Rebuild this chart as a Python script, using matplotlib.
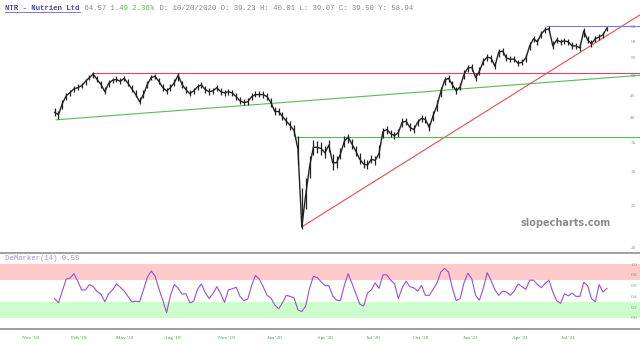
import matplotlib
matplotlib.use('Agg')
import matplotlib.pyplot as plt
import matplotlib.ticker as mticker
import matplotlib.dates as mdates
from matplotlib.lines import Line2D
import pandas as pd

# ---------------- data ----------------
start_date = '2018-12-14'
price_close = [
    41.1, 40.6, 43.1, 44.9, 45.7, 46.6, 46.9, 47.4, 48.5, 49.5,
    50.4, 49.0, 47.7, 45.9, 48.0, 48.8, 49.0, 48.5, 49.3, 48.0,
    46.6, 45.2, 43.5, 45.2, 47.7, 49.5, 49.8, 48.5, 46.9, 46.1,
    46.9, 48.2, 50.1, 47.7, 46.4, 45.4, 46.1, 47.1, 47.6, 46.4,
    45.9, 46.1, 46.9, 45.9, 45.6, 45.9, 45.6, 44.7, 43.7, 43.3,
    43.5, 44.7, 45.2, 45.2, 45.2, 44.7, 43.3, 41.3, 41.3, 40.2,
    39.2, 38.3, 37.3, 33.8, 22.3, 26.4, 30.7, 34.1, 34.1, 33.9,
    33.1, 34.5, 31.4, 31.4, 32.9, 35.2, 36.0, 34.7, 33.4, 32.0,
    31.2, 31.0, 32.0, 31.8, 33.0, 37.1, 37.5, 36.7, 36.3, 36.9,
    39.0, 39.2, 37.9, 37.5, 39.0, 39.8, 39.6, 37.9, 40.4, 42.6,
    45.9, 48.8, 49.3, 47.6, 46.1, 47.1, 50.3, 52.1, 52.3, 49.5,
    51.2, 54.0, 55.2, 54.9, 52.6, 56.7, 57.0, 54.9, 54.6, 54.6,
    53.4, 53.7, 54.9, 58.6, 60.9, 59.9, 62.5, 63.9, 64.2, 58.6,
    60.5, 59.9, 60.2, 59.9, 58.6, 58.6, 58.0, 63.5, 60.5, 59.3,
    60.9, 61.5, 62.2, 64.5,
]
price_high = [
    42.0, 41.5, 44.0, 45.6, 46.4, 47.3, 47.7, 48.2, 49.2, 50.2,
    50.9, 49.9, 48.6, 47.0, 48.8, 49.5, 49.8, 49.3, 50.0, 49.0,
    47.6, 46.2, 44.6, 46.3, 48.6, 50.3, 50.5, 49.4, 47.8, 46.9,
    47.7, 49.1, 50.8, 48.7, 47.3, 46.3, 46.9, 47.9, 48.3, 47.3,
    46.7, 46.9, 47.6, 46.8, 46.4, 46.6, 46.4, 45.6, 44.6, 44.1,
    44.3, 45.5, 46.0, 46.0, 46.0, 45.6, 44.4, 42.4, 42.1, 41.1,
    40.1, 39.3, 38.4, 36.3, 27.5, 28.9, 32.5, 35.4, 35.2, 35.0,
    34.3, 35.5, 32.9, 32.5, 33.9, 36.2, 36.7, 35.6, 34.4, 33.0,
    32.1, 31.9, 32.7, 32.6, 34.5, 37.9, 38.2, 37.5, 37.1, 37.6,
    39.8, 39.9, 38.8, 38.4, 39.7, 40.5, 40.3, 38.9, 41.4, 43.8,
    47.0, 49.7, 50.1, 48.6, 47.1, 48.2, 51.4, 53.0, 53.1, 50.6,
    52.4, 54.9, 56.0, 55.7, 53.8, 57.6, 57.9, 56.0, 55.5, 55.5,
    54.4, 54.6, 56.0, 59.8, 61.9, 60.9, 63.4, 64.7, 65.3, 60.2,
    61.5, 60.9, 61.1, 60.9, 59.7, 59.6, 59.2, 64.6, 61.8, 60.4,
    61.8, 62.3, 63.0, 65.0,
]
price_low = [
    40.3, 39.6, 41.8, 44.0, 44.9, 45.9, 46.2, 46.7, 47.6, 48.8,
    49.5, 48.3, 46.8, 45.3, 47.0, 48.0, 48.3, 47.8, 48.5, 47.3,
    45.9, 44.5, 43.0, 44.3, 46.8, 48.8, 49.0, 47.7, 46.1, 45.4,
    46.0, 47.3, 48.6, 46.9, 45.6, 44.8, 45.3, 46.3, 46.8, 45.7,
    45.2, 45.4, 46.1, 45.2, 44.9, 45.1, 44.9, 44.0, 43.0, 42.7,
    42.8, 43.9, 44.5, 44.5, 44.4, 43.9, 42.3, 40.6, 40.5, 39.4,
    38.4, 37.5, 36.2, 31.0, 22.0, 24.5, 29.0, 32.8, 33.0, 32.8,
    32.2, 33.3, 30.2, 30.6, 32.0, 34.2, 34.9, 33.8, 32.6, 31.2,
    30.5, 30.3, 31.3, 31.1, 32.2, 35.8, 36.7, 36.0, 35.6, 36.1,
    38.1, 38.4, 37.2, 36.8, 38.2, 39.0, 38.8, 37.2, 39.2, 41.4,
    44.5, 47.6, 48.3, 46.7, 45.4, 46.2, 49.0, 51.1, 51.2, 48.6,
    50.1, 52.8, 54.2, 53.9, 51.7, 55.2, 55.9, 54.0, 53.7, 53.7,
    52.6, 52.8, 53.8, 57.2, 59.7, 58.9, 61.3, 62.8, 63.0, 57.6,
    59.4, 58.9, 59.2, 58.9, 57.7, 57.7, 57.1, 61.5, 59.4, 58.2,
    59.9, 60.6, 61.3, 63.4,
]
demarker = [
    0.36, 0.28, 0.50, 0.72, 0.74, 0.82, 0.68, 0.52, 0.52, 0.62,
    0.58, 0.49, 0.44, 0.30, 0.45, 0.52, 0.63, 0.57, 0.50, 0.40,
    0.30, 0.31, 0.30, 0.52, 0.75, 0.87, 0.78, 0.54, 0.33, 0.10,
    0.42, 0.62, 0.55, 0.44, 0.45, 0.28, 0.31, 0.53, 0.63, 0.47,
    0.36, 0.45, 0.58, 0.45, 0.29, 0.52, 0.54, 0.57, 0.40, 0.32,
    0.35, 0.60, 0.79, 0.72, 0.58, 0.42, 0.37, 0.24, 0.17, 0.28,
    0.42, 0.40, 0.37, 0.15, 0.12, 0.22, 0.55, 0.77, 0.75, 0.67,
    0.60, 0.60, 0.41, 0.33, 0.32, 0.60, 0.82, 0.64, 0.45, 0.26,
    0.22, 0.46, 0.52, 0.65, 0.55, 0.80, 0.80, 0.70, 0.64, 0.36,
    0.56, 0.68, 0.58, 0.56, 0.50, 0.60, 0.42, 0.42, 0.53, 0.65,
    0.85, 0.92, 0.85, 0.55, 0.32, 0.36, 0.65, 0.83, 0.73, 0.42,
    0.33, 0.55, 0.84, 0.70, 0.52, 0.42, 0.50, 0.48, 0.42, 0.50,
    0.63, 0.58, 0.53, 0.70, 0.70, 0.62, 0.56, 0.64, 0.70, 0.48,
    0.32, 0.27, 0.45, 0.41, 0.46, 0.40, 0.40, 0.66, 0.60, 0.36,
    0.30, 0.62, 0.48, 0.55,
]

x_range = ['2018-09-06', '2021-11-09']

# trend lines (date, price)
green_rise_dates = ['2018-12-17', '2021-11-09']
green_rise_vals = [39.5, 50.1]
red_rise_dates = ['2020-03-06', '2021-11-09']
red_rise_vals = [22.3, 69.2]
red_h_date, red_h_val = '2019-02-19', 50.7
green_h_date, green_h_val = '2020-02-23', 36.0
blue_h_date, blue_h_val = '2021-05-24', 65.3

price_ticks = [20, 25, 30, 35, 40, 45, 50, 55, 60, 65]
dem_ticks = [0.0, 0.2, 0.4, 0.6, 0.8, 1.0]
tick_dates = ['2018-10-31', '2019-01-26', '2019-04-20', '2019-07-16', '2019-10-22',
              '2020-01-17', '2020-04-17', '2020-07-13', '2020-10-08', '2021-01-05',
              '2021-04-05', '2021-07-01']
tick_labels = ["Nov '18", "Feb '19", "May '19", "Aug '19", "Nov '19", "Jan '20",
               "Apr '20", "Jul '20", "Oct '20", "Jan '21", "Apr '21", "Jul '21"]

title_parts = [("NTR - Nutrien Ltd", '#4a4aa8', 'bold'),
               (" 64.57", '#8a8a8a', 'normal'),
               (" 1.49 2.36%", '#5fae5f', 'normal'),
               (" D: 10/20/2020 O: 39.23 H: 40.01 L: 39.07 C: 39.50 Y: 58.94", '#8a8a8a', 'normal')]
dem_label = "DeMarker(14) 0.55"

# ---------------- figure ----------------
W, H = 640, 347
plt.rcParams['font.family'] = ['Liberation Serif', 'DejaVu Serif']
fig = plt.figure(figsize=(W / 100, H / 100), dpi=100)


def fy(py):
    return 1 - py / H


ax = fig.add_axes([0, fy(252), 1, fy(14) - fy(252)])
ax2 = fig.add_axes([0, fy(329), 1, fy(253) - fy(329)], sharex=ax)

dates = pd.date_range(start_date, periods=len(price_close), freq='7D')
xr = pd.to_datetime(x_range)

# price panel
ax.vlines(dates, price_low, price_high, color='#222222', lw=0.9, zorder=5)
ax.plot(dates, price_close, color='#222222', lw=1.0, zorder=5)
ax.plot(pd.to_datetime(green_rise_dates), green_rise_vals, color='#55bb55', lw=0.8)
ax.plot(pd.to_datetime(red_rise_dates), red_rise_vals, color='#e25050', lw=0.8)
ax.plot(pd.to_datetime([red_h_date, x_range[1]]), [red_h_val] * 2, color='#dd4466', lw=0.8)
ax.plot(pd.to_datetime([green_h_date, x_range[1]]), [green_h_val] * 2, color='#55bb55', lw=0.8)
ax.plot(pd.to_datetime([blue_h_date, x_range[1]]), [blue_h_val] * 2, color='#7777ee', lw=0.8)

ax.set_yscale('log')
ax.set_ylim(19.5, 69.5)
ax.set_xlim(xr[0], xr[1])
ax.yaxis.set_major_locator(mticker.FixedLocator(price_ticks))
ax.yaxis.set_major_formatter(mticker.FixedFormatter([str(t) for t in price_ticks]))
ax.yaxis.set_minor_locator(mticker.NullLocator())
ax.yaxis.tick_right()
ax.tick_params(axis='y', which='both', direction='in', length=0, pad=-7,
               labelsize=3.8, labelcolor='#6f9f6f')
ax.tick_params(axis='x', which='both', length=0, labelbottom=False)
for s in ax.spines.values():
    s.set_visible(False)

# DeMarker panel
ax2.axhspan(0.7, 1.0, color='#ffcaca', lw=0)
ax2.axhspan(0.0, 0.3, color='#ccffcc', lw=0)
ax2.plot(dates, demarker, color='#9b4fd6', lw=0.8)
ax2.set_ylim(-0.204, 1.204)
ax2.yaxis.set_major_locator(mticker.FixedLocator(dem_ticks))
ax2.yaxis.set_major_formatter(mticker.FixedFormatter(['%.1f' % t for t in dem_ticks]))
ax2.yaxis.tick_right()
ax2.tick_params(axis='y', direction='in', length=0, pad=-7, labelsize=3.8, labelcolor='#6f9f6f')
ax2.xaxis.set_major_locator(mticker.FixedLocator([mdates.date2num(d) for d in pd.to_datetime(tick_dates)]))
ax2.xaxis.set_major_formatter(mticker.FixedFormatter(tick_labels))
ax2.tick_params(axis='x', length=0, pad=5, labelsize=3.8, labelcolor='#3f9a3f')
ax2.set_xlim(xr[0], xr[1])
for k in ['left', 'right']:
    ax2.spines[k].set_visible(False)
for k in ['top', 'bottom']:
    ax2.spines[k].set_color('#a0a0a0')
    ax2.spines[k].set_linewidth(1.4)

# texts
cx = 5
char_w = 4.4
for txt, col, wt in title_parts:
    fig.text(cx / W, fy(8), txt, fontsize=5.3, family='Liberation Mono', color=col,
             fontweight=wt, va='center', ha='left')
    if wt == 'bold':
        fig.add_artist(Line2D([cx / W, (cx + len(txt) * char_w) / W], [fy(11.8)] * 2,
                              transform=fig.transFigure, color=col, lw=0.5))
    cx += len(txt) * char_w

fig.text(5 / W, fy(258), dem_label, fontsize=5.3, family='Liberation Mono',
         color='#a98bd2', va='center', ha='left')
fig.text(566 / W, fy(223), 'slopecharts.com', fontsize=7, fontweight='bold',
         family='DejaVu Sans', color='#8c8c8c', ha='center', va='center')

fig.savefig('out.png', dpi=100)
